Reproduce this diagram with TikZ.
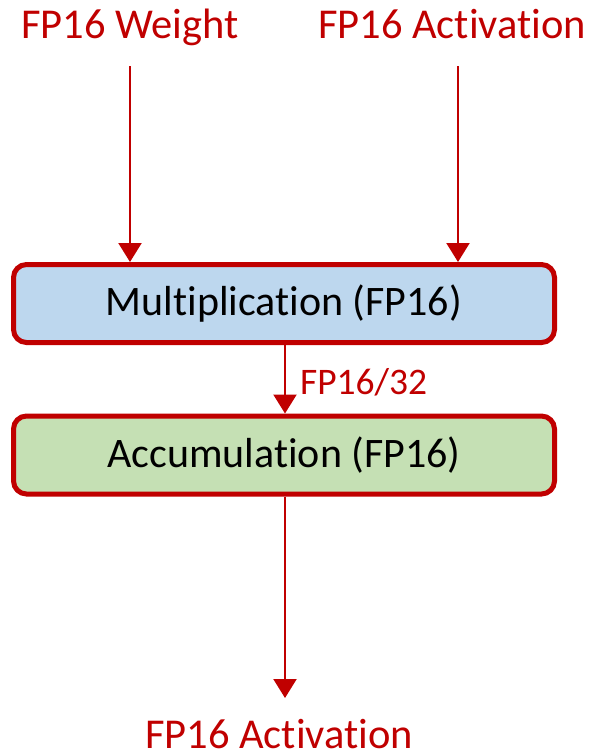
\documentclass[tikz,border=0pt]{standalone}
\usepackage{fontspec}
\setmainfont{Carlito}[Ligatures={NoCommon,NoRequired,NoContextual}]
\usetikzlibrary{arrows.meta}
\definecolor{darkred}{HTML}{C00000}
\definecolor{mulfill}{HTML}{BDD7EE}
\definecolor{accfill}{HTML}{C5E0B4}
% keeps t and i as separate glyphs
\newcommand\nolig{\kern0pt{}}
\tikzset{
  x=1pt, y=1pt,
  flowlabel/.style={text=darkred, font=\fontsize{42.5}{50}\selectfont, inner sep=0pt, anchor=base},
  edgelabel/.style={text=darkred, font=\fontsize{37.5}{45}\selectfont, inner sep=0pt},
  opbox/.style={draw=darkred, line width=5pt, rounded corners=13pt,
    minimum width=541pt, minimum height=78pt, inner sep=0pt,
    font=\fontsize{42}{50}\selectfont, text=black},
  flow/.style={draw=darkred, line width=2.2pt,
    -{Triangle[width=23pt,length=19pt]}},
}
\begin{document}
\begin{tikzpicture}
\useasboundingbox (0,0) rectangle (592,-756);

% input labels
\node[flowlabel] (wlab) at (130,-38) {FP16 Weight};
\node[flowlabel] (alab) at (452,-38) {FP16 Act\nolig ivat\nolig ion};

% operation boxes
\node[opbox, fill=mulfill] (mul) at (284,-303.5) {Mult\nolig iplicat\nolig ion (FP16)};
\node[opbox, fill=accfill] (acc) at (284,-455) {Accumulat\nolig ion (FP16)};

% output label
\node[flowlabel] (olab) at (279,-748) {FP16 Act\nolig ivat\nolig ion};

% arrow start and end points
\coordinate (w0) at (130,-66);
\coordinate (a0) at (458,-66);
\coordinate (o1) at (285,-698);

\draw[flow] (w0) -- (w0 |- mul.north);
\draw[flow] (a0) -- (a0 |- mul.north);
\draw[flow] ([xshift=1pt]mul.south) -- ([xshift=1pt]acc.north)
  node[edgelabel, anchor=west, pos=0.5, xshift=14pt, yshift=-3pt] (mid) {FP16/32};
\draw[flow] ([xshift=1pt]acc.south) -- (o1);
\end{tikzpicture}
\end{document}
